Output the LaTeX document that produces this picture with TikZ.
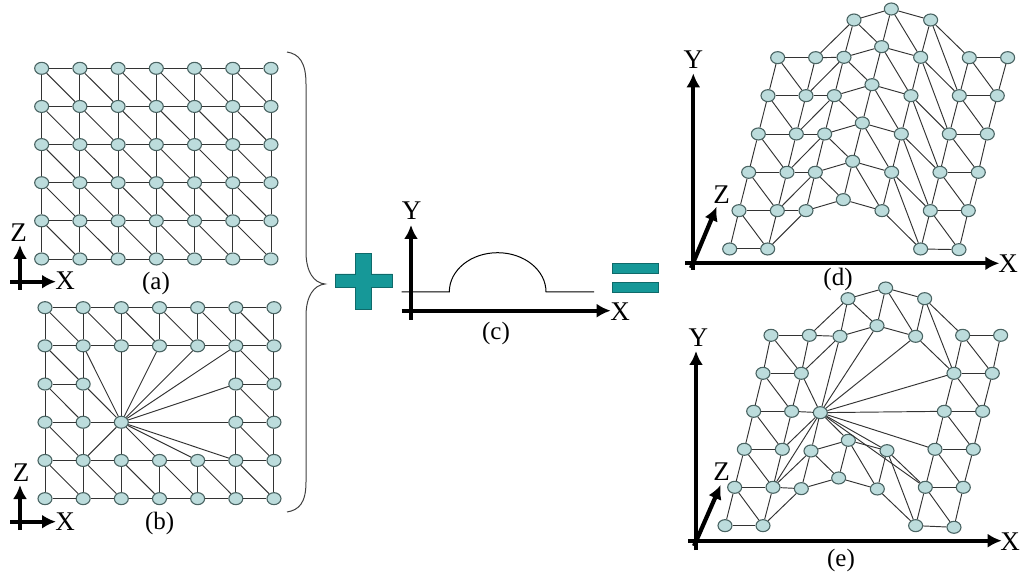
\documentclass[tikz,border=0pt]{standalone}
\usepackage{fontspec}
\setmainfont{Liberation Serif}
\usetikzlibrary{shapes.geometric,arrows.meta}
\definecolor{meshfill}{HTML}{BCDCDC}
\definecolor{meshring}{HTML}{4A6463}
\definecolor{signteal}{HTML}{169898}

% Canh cua luoi day du
\newcommand{\fulledges}[1]{
    \foreach \r in {0,...,5} \foreach \c [count=\d from 1] in {0,...,5}
        \draw[meshedge] (#1-\c-\r) -- (#1-\d-\r);
    \foreach \c in {0,...,6} \foreach \r [count=\s from 1] in {0,...,4}
        \draw[meshedge] (#1-\c-\r) -- (#1-\c-\s);
    \foreach \c [count=\d from 1] in {0,...,5} \foreach \r [count=\s from 1] in {0,...,4}
        \draw[meshedge] (#1-\c-\r) -- (#1-\d-\s);
}
% Canh cua luoi co quat tai nut 2-3
\newcommand{\cutedges}[1]{
    \foreach \r in {0,1,4,5} \foreach \c [count=\d from 1] in {0,...,5}
        \draw[meshedge] (#1-\c-\r) -- (#1-\d-\r);
    \foreach \c in {0,1,5,6} \foreach \r [count=\s from 1] in {0,...,4}
        \draw[meshedge] (#1-\c-\r) -- (#1-\c-\s);
    \foreach \r [evaluate=\r as \s using int(\r+1)] in {0,4} \foreach \c [count=\d from 1] in {0,...,5}
        \draw[meshedge] (#1-\c-\r) -- (#1-\d-\s);
    \foreach \p/\q in {0-2/1-2, 5-2/6-2, 0-3/1-3, 1-3/2-3, 2-3/5-3, 5-3/6-3,
        2-0/2-1, 2-1/2-3, 2-3/2-4, 2-4/2-5, 3-0/3-1, 3-4/3-5, 4-0/4-1, 4-4/4-5,
        0-1/1-2, 1-1/2-3, 5-1/6-2, 0-2/1-3, 1-2/2-3, 5-2/6-3, 0-3/1-4, 2-3/3-4, 5-3/6-4,
        2-3/3-1, 2-3/4-1, 2-3/5-1, 2-3/5-2, 2-3/5-4, 2-3/4-4, 2-3/1-4}
        \draw[meshedge] (#1-\p) -- (#1-\q);
}

\begin{document}
\begin{tikzpicture}[x=1pt, y=-1pt,
    meshnode/.style={ellipse, draw=meshring, fill=meshfill, line width=1.1pt, inner sep=0pt, minimum width=14pt, minimum height=12pt},
    meshedge/.style={line width=0.95pt, black!80},
    axisarrow/.style={line width=4.2pt, -{Latex[length=14pt,width=14pt]}},
    axislabel/.style={font=\fontsize{27}{29}\selectfont, inner sep=0pt},
    caption/.style={font=\fontsize{25}{27}\selectfont, inner sep=0pt},
    signbox/.style={draw=signteal!70!black, fill=signteal, line width=0.8pt}]
    \useasboundingbox (0,0) rectangle (1023,577);

    % 1. Luoi (a) va (b)
    \begin{scope}[shift={(0,40)}, x=0.3333pt, y=-0.3333pt]
        \foreach \r in {0,...,5} \foreach \c in {0,...,6}
            \node[meshnode] (a-\c-\r) at ({125+114.67*\c}, {85+114.4*\r}) {};
    \end{scope}
    \fulledges{a}

    \begin{scope}[shift={(0,285)}, x=0.3333pt, y=-0.3333pt]
        \foreach \r/\cols in {0/{0,1,2,3,4,5,6}, 1/{0,1,2,3,4,5,6}, 2/{0,1,5,6}, 3/{0,1,2,5,6}, 4/{0,1,2,3,4,5,6}, 5/{0,1,2,3,4,5,6}}
            \foreach \c in \cols
                \node[meshnode] (b-\c-\r) at ({135+114.5*\c}, {68+114.6*\r}) {};
    \end{scope}
    \cutedges{b}

    % 2. Luoi (d) va (e)
    \begin{scope}[shift={(680,0)}, x=0.3333pt, y=-0.3333pt]
        \foreach \r/\rowpts in {
            0/{0/293/173, 1/407/173, 2/522/60, 3/634/27, 4/752/60, 5/868/173, 6/983/173},
            1/{0/264/287, 1/378/287, 2/492/172, 3/605/140, 4/722/172, 5/838/287, 6/952/287},
            2/{0/235/402, 1/349/402, 2/463/287, 3/576/254, 4/693/287, 5/808/402, 6/922/402},
            3/{0/206/517, 1/321/517, 2/434/402, 3/547/369, 4/664/402, 5/780/517, 6/895/517},
            4/{0/177/632, 1/292/632, 2/406/517, 3/518/484, 4/635/517, 5/751/632, 6/865/632},
            5/{0/149/747, 1/263/747, 2/378/632, 3/490/599, 4/606/632, 5/722/747, 6/837/749}}
            \foreach \c/\px/\py in \rowpts
                \node[meshnode] (d-\c-\r) at (\px, \py) {};
    \end{scope}
    \fulledges{d}

    \begin{scope}[shift={(680,275)}, x=0.3333pt, y=-0.3333pt]
        \foreach \r/\rowpts in {
            0/{0/273/181, 1/388/181, 2/504/71, 3/617/39, 4/734/71, 5/848/181, 6/962/181},
            1/{0/249/295, 1/364/295, 2/480/184, 3/591/152, 4/707/184, 5/822/295, 6/937/295},
            2/{0/221/409, 1/335/409, 5/793/409, 6/908/409},
            3/{0/193/523, 1/307/523, 2/421/413, 5/765/523, 6/880/523},
            4/{0/164/637, 1/279/637, 2/393/528, 3/505/496, 4/621/527, 5/736/637, 6/850/637},
            5/{0/135/752, 1/249/752, 2/364/641, 3/476/609, 4/592/642, 5/707/752, 6/822/757}}
            \foreach \c/\px/\py in \rowpts
                \node[meshnode] (e-\c-\r) at (\px, \py) {};
    \end{scope}
    \cutedges{e}

    % 3. Cac truc toa do
    \foreach \n/\sx/\sy/\ex/\ey in {
        ax/10/281.7/56/281.7, az/20/290/20/245,
        bx/10/521.7/56/521.7, bz/20/530/20/485,
        cx/401.7/310.7/610.7/310.7, cy/411/320/411/225,
        dx/685/263.3/999.3/263.3, dy/693.3/270/693.3/73.3, dz/691/268/716.7/206.7,
        ex/688.3/540.7/1001.7/540.7, ey/696/550/696/351, ez/694/546/720.7/485}
    {
        \coordinate (\n-s) at (\sx, \sy);
        \coordinate (\n-e) at (\ex, \ey);
        \draw[axisarrow] (\n-s) -- (\n-e);
    }

    % 4. Nhan truc va nhan hinh
    \foreach \n/\px/\py/\t in {
        lax/65/281/X, laz/18.7/233/Z, lbx/65/522/X, lbz/21/473/Z,
        lcx/620/311.7/X, lcy/411.7/211/Y,
        ldx/1008/263.3/X, ldy/693.3/60/Y, ldz/721.7/195/Z,
        lex/1010/541.7/X, ley/698.3/337.3/Y, lez/721.7/471.7/Z}
        \node[axislabel] (\n) at (\px, \py) {\t};
    \foreach \n/\px/\py/\t in {
        capa/156/283/(a), capb/159.7/523/(b), capc/496/333/(c), capd/838/279.3/(d), cape/841/560/(e)}
        \node[caption] (\n) at (\px, \py) {\t};

    % 5. Ngoac nhon
    \draw[line width=1pt, black!75] (287,52) .. controls (299,54) and (306,62) .. (306,84)
        -- (306,252) .. controls (306,272) and (314,283) .. (325,284)
        .. controls (314,285) and (306,296) .. (306,316)
        -- (306,482) .. controls (306,503) and (299,510) .. (287,512);

    % 6. Duong cong (c)
    \coordinate (hump-l) at (401.7,292);
    \coordinate (hump-a) at (449.3,292);
    \coordinate (hump-b) at (546,292);
    \coordinate (hump-r) at (594,292);
    \draw[line width=1pt, black] (hump-l) -- (hump-a)
        .. controls (449.3,270) and (471,252.7) .. (497.7,252.7)
        .. controls (524,252.7) and (546,270) .. (hump-b) -- (hump-r);

    % 7. Dau cong va dau bang
    \draw[signbox] (355,253.3) -- (371.7,253.3) -- (371.7,274) -- (392.7,274) -- (392.7,287.7)
        -- (371.7,287.7) -- (371.7,309.3) -- (355,309.3) -- (355,287.7) -- (335,287.7)
        -- (335,274) -- (355,274) -- cycle;
    \draw[signbox] (612.3,263.3) rectangle (658,273.3);
    \draw[signbox] (612.3,282.3) rectangle (658,292.7);
\end{tikzpicture}
\end{document}
